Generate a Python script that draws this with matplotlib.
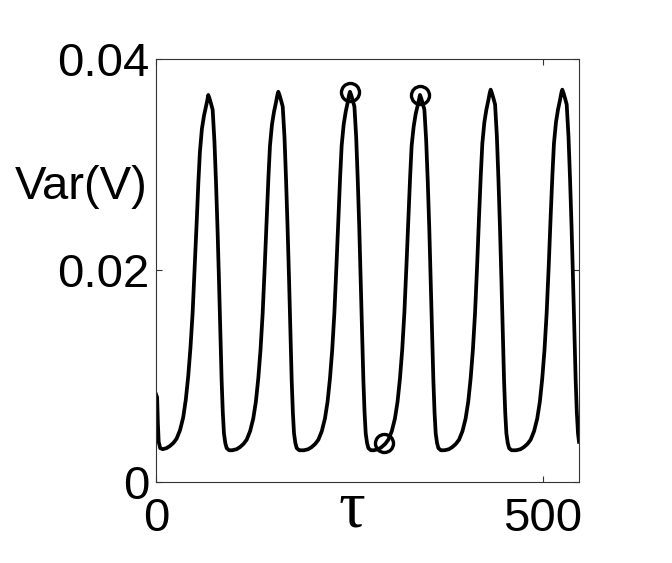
import matplotlib
matplotlib.use("Agg")
import matplotlib.pyplot as plt

# values (tau, Var(V))
tau = [0, 1.5, 2.5, 3.5, 5.5, 8.7,
       13.6, 18.0, 22.6, 26.7, 31.1, 35.2, 38.6, 41.7, 44.6, 47.4, 50.1, 52.6, 54.8, 56.8, 59.4, 62.0, 64.6, 66.4,
       67.6, 69.1, 71.1, 73.3, 75.6, 77.6, 79.6, 81.5, 83.2, 84.9, 86.4, 87.9, 89.6, 91.4, 94.6,
       98.6, 104.2, 108.6, 113.2, 117.3, 121.7, 125.8, 129.2, 132.3, 135.2, 138.0, 140.7, 143.2, 145.4, 147.4, 150.0, 152.6, 155.2, 157.0,
       158.2, 159.7, 161.7, 163.9, 166.2, 168.2, 170.2, 172.1, 173.8, 175.5, 177.0, 178.5, 180.2, 182.0, 185.2,
       191.3, 196.9, 201.3, 205.9, 210.0, 214.4, 218.5, 221.9, 225.0, 227.9, 230.7, 233.4, 235.9, 238.1, 240.1, 242.7, 245.3, 247.9, 249.7,
       250.9, 252.4, 254.4, 256.6, 258.9, 260.9, 262.9, 264.8, 266.5, 268.2, 269.7, 271.2, 272.9, 274.7, 277.9,
       281.8, 287.4, 291.8, 296.4, 300.5, 304.9, 309.0, 312.4, 315.5, 318.4, 321.2, 323.9, 326.4, 328.6, 330.6, 333.2, 335.8, 338.4, 340.2,
       341.4, 342.9, 344.9, 347.1, 349.4, 351.4, 353.4, 355.3, 357.0, 358.7, 360.2, 361.7, 363.4, 365.2, 368.4,
       373.2, 378.8, 383.2, 387.8, 391.9, 396.3, 400.4, 403.8, 406.9, 409.8, 412.6, 415.3, 417.8, 420.0, 422.0, 424.6, 427.2, 429.8, 431.6,
       432.8, 434.3, 436.3, 438.5, 440.8, 442.8, 444.8, 446.7, 448.4, 450.1, 451.6, 453.1, 454.8, 456.6, 459.8,
       465.8, 471.4, 475.8, 480.4, 484.5, 488.9, 493.0, 496.4, 499.5, 502.4, 505.2, 507.9, 510.4, 512.6, 514.6, 517.2, 519.8, 522.4, 524.2,
       525.4, 526.9, 528.9, 531.1, 533.4, 535.4, 537.4, 539.3, 541.0, 542.7, 544.2, 545.7, 547.0]
var_v = [0.0083, 0.0080, 0.0055, 0.0038, 0.0032, 0.0031,
         0.0032, 0.0034, 0.0037, 0.0041, 0.0049, 0.0061, 0.0078, 0.0100, 0.0127, 0.0160, 0.0203, 0.0245, 0.0283, 0.0312, 0.0334, 0.0346, 0.0355, 0.0361,
         0.0366, 0.0363, 0.0358, 0.0352, 0.0322, 0.0284, 0.0239, 0.0190, 0.0142, 0.0096, 0.0066, 0.0046, 0.0037, 0.0032, 0.0030,
         0.0030, 0.0031, 0.0033, 0.0036, 0.0040, 0.0048, 0.0060, 0.0076, 0.0098, 0.0125, 0.0160, 0.0205, 0.0250, 0.0288, 0.0318, 0.0338, 0.0350, 0.0359, 0.0366,
         0.0369, 0.0366, 0.0361, 0.0355, 0.0326, 0.0286, 0.0240, 0.0191, 0.0142, 0.0096, 0.0066, 0.0046, 0.0037, 0.0032, 0.0030,
         0.0030, 0.0031, 0.0033, 0.0036, 0.0040, 0.0048, 0.0060, 0.0076, 0.0098, 0.0125, 0.0160, 0.0205, 0.0250, 0.0288, 0.0318, 0.0338, 0.0350, 0.0359, 0.0366,
         0.0369, 0.0366, 0.0361, 0.0355, 0.0326, 0.0286, 0.0240, 0.0190, 0.0142, 0.0096, 0.0066, 0.0046, 0.0037, 0.0032, 0.0030,
         0.0030, 0.0031, 0.0033, 0.0036, 0.0040, 0.0048, 0.0060, 0.0076, 0.0098, 0.0125, 0.0160, 0.0205, 0.0250, 0.0288, 0.0318, 0.0336, 0.0348, 0.0356, 0.0362,
         0.0366, 0.0363, 0.0358, 0.0352, 0.0323, 0.0285, 0.0240, 0.0190, 0.0142, 0.0096, 0.0066, 0.0046, 0.0037, 0.0032, 0.0030,
         0.0030, 0.0031, 0.0033, 0.0036, 0.0040, 0.0048, 0.0060, 0.0076, 0.0098, 0.0125, 0.0160, 0.0205, 0.0252, 0.0290, 0.0320, 0.0340, 0.0352, 0.0361, 0.0368,
         0.0371, 0.0368, 0.0363, 0.0357, 0.0327, 0.0287, 0.0241, 0.0191, 0.0142, 0.0096, 0.0066, 0.0046, 0.0037, 0.0032, 0.0030,
         0.0030, 0.0031, 0.0033, 0.0036, 0.0040, 0.0048, 0.0060, 0.0076, 0.0098, 0.0125, 0.0160, 0.0205, 0.0252, 0.0290, 0.0320, 0.0340, 0.0352, 0.0361, 0.0368,
         0.0371, 0.0368, 0.0363, 0.0357, 0.0327, 0.0287, 0.0241, 0.0191, 0.0142, 0.0096, 0.0066, 0.0046, 0.0038]

# circled points
mark_tau = [250.9, 341.4, 295.2]
mark_var = [0.0369, 0.0366, 0.0037]

x_ticks = [0, 500]
x_tick_labels = ["0", "500"]
y_ticks = [0, 0.02, 0.04]
y_tick_labels = ["0", "0.02", "0.04"]

plt.rcParams["font.family"] = ["Liberation Sans", "DejaVu Sans"]

fig = plt.figure(figsize=(6.72, 5.63), dpi=100)
ax = fig.add_axes([0.2321, 0.1439, 0.6295, 0.7513])

ax.plot(tau, var_v, color="black", linewidth=2.7, solid_joinstyle="round")
ax.plot(mark_tau, mark_var, "o", markerfacecolor="none", markeredgecolor="black",
        markersize=13, markeredgewidth=2.4)

ax.set_xlim(0, 547)
ax.set_ylim(0, 0.04)
ax.set_xticks(x_ticks)
ax.set_xticklabels(x_tick_labels)
ax.set_yticks(y_ticks)
ax.set_yticklabels(y_tick_labels)
ax.tick_params(direction="in", length=4, width=0.8, top=True, right=True,
               labelsize=34, color="#333333")
ax.tick_params(axis="x", pad=11)
ax.tick_params(axis="y", pad=5)
for s in ax.spines.values():
    s.set_linewidth(0.8)
    s.set_color("#333333")

ax.set_ylabel("Var(V)", rotation=0, fontsize=34, ha="right", va="center")
ax.yaxis.set_label_coords(-0.021, 0.697)
ax.set_xlabel("τ", fontsize=48, family=["Liberation Serif", "DejaVu Serif"],
              va="baseline")
ax.xaxis.set_label_coords(0.463, -0.106)

fig.savefig("out.png", dpi=100)
